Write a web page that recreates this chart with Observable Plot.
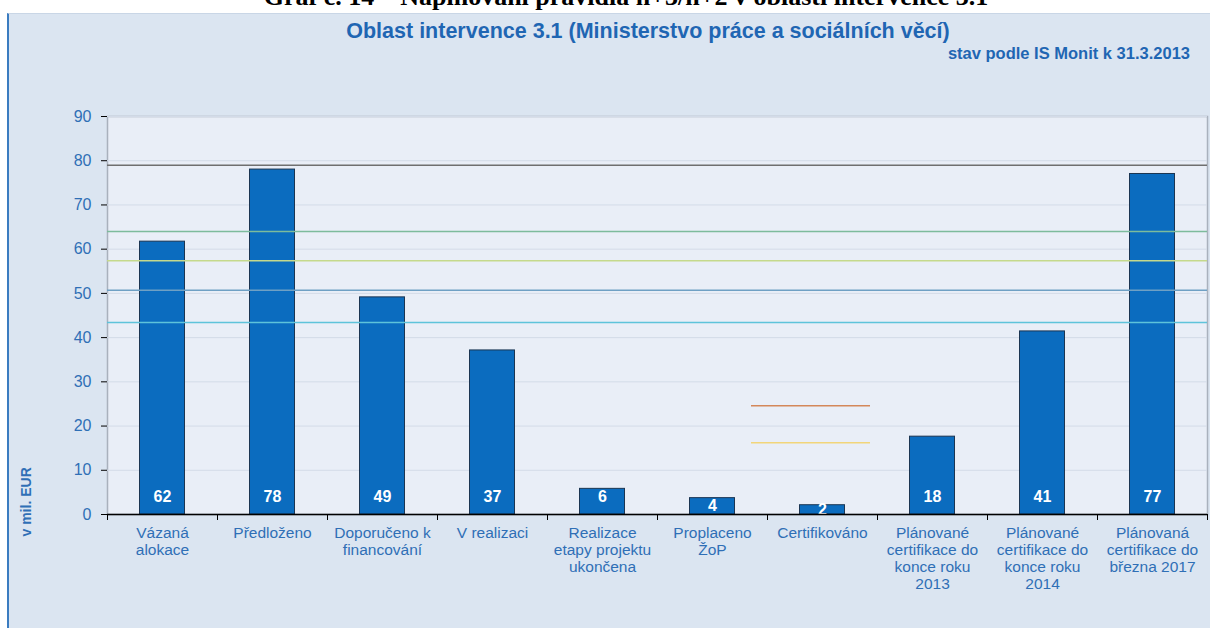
<!DOCTYPE html>
<html>
<head>
<meta charset="utf-8">
<script src="https://cdn.jsdelivr.net/npm/d3@7"></script>
<script src="https://cdn.jsdelivr.net/npm/@observablehq/plot@0.6"></script>
<style>
  html, body { margin: 0; padding: 0; background: #ffffff; width: 1210px; height: 628px; overflow: hidden; position: relative; }
  #doctitle { position: absolute; left: 0; top: -18px; width: 1252px; text-align: center; font-family: "Liberation Serif", serif; font-weight: bold; font-size: 26px; color: #000; white-space: nowrap; }
  #box { position: absolute; left: 7px; top: 13px; width: 1210px; height: 620px; background: #dbe5f1; border-left: 2px solid #3b7cc0; border-top: 1px solid #c9d6e6; }
  #title { position: absolute; left: 0; top: 19px; width: 1296px; text-align: center; font-family: "Liberation Sans", Arial, sans-serif; font-weight: bold; font-size: 21.5px; color: #1f66b3; white-space: nowrap; }
  #subtitle { position: absolute; right: 20px; top: 44px; font-family: "Liberation Sans", Arial, sans-serif; font-weight: bold; font-size: 16.5px; color: #1f66b3; white-space: nowrap; }
  #chart { position: absolute; left: 0; top: 100px; }
</style>
</head>
<body>
<div id="box"></div>
<div id="doctitle">Graf č. 14 – Naplňování pravidla n+3/n+2 v oblasti intervence 3.1</div>
<div id="title">Oblast intervence 3.1 (Ministerstvo práce a sociálních věcí)</div>
<div id="subtitle">stav podle IS Monit k 31.3.2013</div>
<div id="chart"></div>
<script>
const categories = [
  "Vázaná alokace", "Předloženo", "Doporučeno k financování", "V realizaci",
  "Realizace etapy projektu ukončena", "Proplaceno ŽoP", "Certifikováno",
  "Plánované certifikace do konce roku 2013", "Plánované certifikace do konce roku 2014",
  "Plánovaná certifikace do března 2017"
];
const tickLabels = [
  "Vázaná\nalokace", "Předloženo", "Doporučeno k\nfinancování", "V realizaci",
  "Realizace\netapy projektu\nukončena", "Proplaceno\nŽoP", "Certifikováno",
  "Plánované\ncertifikace do\nkonce roku\n2013", "Plánované\ncertifikace do\nkonce roku\n2014",
  "Plánovaná\ncertifikace do\nbřezna 2017"
];
const values = [61.7, 78.0, 49.1, 37.1, 5.8, 3.7, 2.1, 17.6, 41.4, 77.0];
const refLevels = [79.0, 64.0, 57.4, 50.7, 43.4];
const refColors = ["#6f6f6f", "#7dbb9c", "#c5d98c", "#6fa0c4", "#5ec3da"];
const certLevels = [24.6, 16.2];
const certColors = ["#d4875a", "#f2d57a"];
const certCategory = "Certifikováno";
const yTicks = [0, 10, 20, 30, 40, 50, 60, 70, 80, 90];
const yLabel = "v mil. EUR";

const bars = categories.map((c, i) => ({category: c, value: values[i]}));
const refs = refLevels.map((v, i) => ({value: v, color: refColors[i]}));
const certs = certLevels.map((v, i) => ({value: v, color: certColors[i], category: certCategory}));

const blue = "#2f6fb6";
const font = "'Liberation Sans', Arial, sans-serif";

const chart = Plot.plot({
  width: 1210,
  height: 520,
  marginLeft: 107,
  marginRight: 3,
  marginTop: 16,
  marginBottom: 106,
  style: {background: "transparent", fontFamily: font},
  x: {domain: categories, padding: 0},
  y: {domain: [0, 90]},
  marks: [
    Plot.frame({fill: "#e9eef7", stroke: "#a9b1bd", strokeWidth: 1.5}),
    Plot.gridY(yTicks, {stroke: "#d3dbe8", strokeOpacity: 1}),
    Plot.barY(bars, {x: "category", y: "value", fill: "#0b6cbf", stroke: "#1b3552", strokeWidth: 1, insetLeft: 32.5, insetRight: 32.5}),
    Plot.ruleY(refs, {y: "value", stroke: "color", strokeWidth: 1.5}),
    Plot.tickY(certs, {x: "category", y: "value", stroke: "color", strokeWidth: 1.5, insetLeft: -16, insetRight: 7}),
    Plot.text(bars, {x: "category", y: d => d.value >= 5 ? 3.9 : d.value / 2, text: d => String(Math.round(d.value)), fill: "white", fontWeight: "bold", fontSize: 16}),
    Plot.ruleX([0], {y: 0, stroke: "#000", strokeWidth: 1.5, frameAnchor: "left"}),
    Plot.axisY({ticks: yTicks, tickSize: 6, tickPadding: 10, fontSize: 16, color: blue, label: null, tickFormat: d => String(d), stroke: "#000"}),
    Plot.ruleY([0], {stroke: "#000", strokeWidth: 1.5}),
    Plot.axisX({tickSize: 0, tickPadding: 11, fontSize: 15.5, lineHeight: 1.1, fill: blue, label: null, tickFormat: d => tickLabels[categories.indexOf(d)]}),
    Plot.ruleX(categories, {x: d => d, dx: -55, y1: 0, y2: 0, insetBottom: -6, stroke: "#000"}),
    Plot.ruleX([categories[categories.length - 1]], {x: d => d, dx: 55, y1: 0, y2: 0, insetBottom: -6, stroke: "#000"}),
    Plot.text([yLabel], {frameAnchor: "bottom-left", rotate: -90, textAnchor: "start", dx: -77, dy: 22, fill: blue, fontWeight: "bold", fontSize: 14})
  ]
});
document.getElementById("chart").appendChild(chart);
</script>
</body>
</html>
